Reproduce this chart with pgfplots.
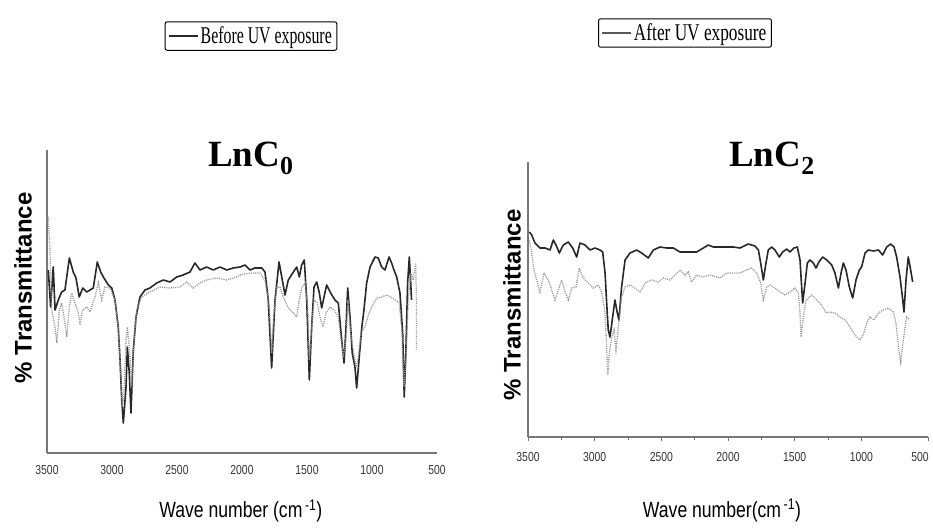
\documentclass[border=0pt]{standalone}
\usepackage{fontspec}
\setmainfont{Liberation Serif}
\newfontfamily\ticksf[FakeStretch=0.8]{Liberation Sans}
\newfontfamily\labsf[FakeStretch=0.8]{Liberation Sans}
\newfontfamily\ylabsf{Liberation Sans}
\newfontfamily\legL[FakeStretch=0.66]{Liberation Serif}
\newfontfamily\legR[FakeStretch=0.72]{Liberation Serif}
\usepackage{pgfplots}
\pgfplotsset{compat=1.18}

\definecolor{axgray}{RGB}{120,120,120}
\definecolor{beforec}{RGB}{40,40,40}
\definecolor{afterc}{RGB}{150,150,150}

\pgfplotsset{ftir/.style={
  scale only axis, anchor=south west,
  axis lines*=left, axis line style={axgray,line width=1.5pt,-},
  x dir=reverse, xmin=500, xmax=3500, ymin=0,
  xtick={500,1000,...,3500}, ytick=\empty,
  tick style={axgray,line width=1pt},
  /pgf/number format/assume math mode=true,
  /pgf/number format/1000 sep={},
  xticklabel style={font=\ticksf\fontsize{13}{14}\selectfont, text=black!80},
  xlabel style={font=\labsf\fontsize{22}{24}\selectfont, anchor=base},
  ylabel style={font=\ylabsf\bfseries\fontsize{24}{26}\selectfont, rotate=0, anchor=center},
  title style={font=\bfseries\fontsize{37}{40}\selectfont, anchor=base},
  legend image code/.code={\draw[#1] (0pt,0pt) -- (29pt,0pt);},
  legend style={draw=black, line width=1pt, rounded corners=2pt, anchor=center,
    inner xsep=3pt, inner ysep=3pt, cells={anchor=west}},
}}
\tikzset{before/.style={beforec, line width=1.6pt, line join=round},
  after/.style={afterc, line width=1.3pt, dash pattern=on 1.1pt off 1.1pt}}

\begin{document}
\begin{tikzpicture}
\useasboundingbox (0,0) rectangle (933pt,527pt);

% LnC0
\begin{axis}[ftir, at={(47pt,74pt)}, width=390pt, height=303pt, ymax=303,
  major tick length=0pt,
  xticklabel style={yshift=-9pt},
  xlabel={Wave number (cm\textsuperscript{\,-1})},
  xlabel style={at={(axis description cs:0.497,-0.2145)}},
  ylabel={\% Transmittance},
  ylabel style={at={(axis description cs:-0.0615,0.545)}},
  title={LnC\textsubscript{0}},
  title style={at={(axis description cs:0.523,0.927)}},
  legend style={at={(axis description cs:0.523,1.376)}, font=\legL\fontsize{24}{26}\selectfont}]
\addplot[before] coordinates {
(3490,183) (3472,146) (3452,186) (3438,143) (3413,153) (3387,161) (3362,163)
(3328,195) (3298,181) (3277,175) (3252,156) (3225,165) (3195,161) (3169,163)
(3144,165) (3113,191) (3087,181) (3062,175) (3028,168) (3002,165) (2977,153)
(2952,126) (2938,93) (2925,53) (2913,30) (2892,66) (2882,106) (2867,80)
(2854,40) (2836,103) (2815,136) (2785,156) (2746,163) (2708,165) (2656,170)
(2605,173) (2554,171) (2502,176) (2452,178) (2400,181) (2362,190) (2323,183)
(2272,186) (2221,183) (2169,186) (2118,183) (2067,185) (2015,186) (1977,188)
(1938,183) (1900,185) (1848,185) (1823,181) (1798,153) (1772,85) (1746,153)
(1715,191) (1690,173) (1669,158) (1644,173) (1605,181) (1579,186) (1559,176)
(1541,188) (1521,193) (1502,153) (1482,73) (1464,126) (1446,166) (1425,171)
(1405,160) (1387,145) (1369,156) (1349,168) (1318,160) (1285,153) (1259,150)
(1233,113) (1215,90) (1200,126) (1187,165) (1169,136) (1152,100) (1131,86)
(1118,65) (1100,93) (1079,125) (1062,143) (1041,170) (1015,186) (977,196)
(952,195) (926,186) (900,183) (869,196) (849,190) (831,183) (810,176)
(785,160) (764,120) (752,56) (739,103) (726,170) (713,196) (702,170) (696,153)
};
\addlegendentry{Before UV exposure}
\addplot[after, forget plot] coordinates {
(3490,236) (3477,203) (3464,143) (3438,126) (3425,110) (3405,143) (3387,150)
(3369,136) (3348,116) (3328,146) (3310,160) (3285,150) (3259,140) (3246,128)
(3225,143) (3195,146) (3169,141) (3148,150) (3131,156) (3105,170) (3079,153)
(3054,166) (3015,165) (2977,153) (2952,126) (2933,80) (2921,46) (2908,60)
(2892,113) (2882,126) (2867,106) (2848,66) (2831,113) (2810,143) (2772,156)
(2708,161) (2631,166) (2554,165) (2477,166) (2425,171) (2375,165) (2323,170)
(2272,173) (2195,175) (2118,173) (2041,176) (2015,178) (1938,180) (1862,180)
(1823,173) (1790,146) (1772,100) (1754,140) (1733,166) (1708,166) (1682,156)
(1644,145) (1605,140) (1579,136) (1559,153) (1541,165) (1515,170) (1495,146)
(1482,93) (1464,126) (1446,153) (1421,150) (1395,133) (1375,126) (1354,140)
(1323,146) (1290,143) (1259,136) (1238,113) (1221,96) (1200,113) (1185,153)
(1164,120) (1144,103) (1123,86) (1105,96) (1085,120) (1054,126) (1028,138)
(1002,146) (964,155) (926,156) (887,158) (856,156) (823,153) (790,150)
(769,120) (754,66) (739,93) (721,153) (702,180) (682,173) (664,190)
(658,153) (658,103)
};
\end{axis}

% LnC2
\begin{axis}[ftir, at={(528pt,90pt)}, width=400pt, height=275pt, ymax=275,
  xtick={1000,1500,...,3500},
  extra x ticks={500},
  extra x tick style={xticklabel style={xshift=-8pt}},
  tick align=outside, major tick length=4pt, minor tick length=3pt,
  minor x tick num=1,
  xticklabel style={yshift=-8pt},
  xlabel={Wave number(cm\textsuperscript{\,-1})},
  xlabel style={at={(axis description cs:0.485,-0.291)}},
  ylabel={\% Transmittance},
  ylabel style={at={(axis description cs:-0.04,0.48)}},
  title={LnC\textsubscript{2}},
  title style={at={(axis description cs:0.61,0.9636)}},
  legend style={at={(axis description cs:0.3925,1.469)}, font=\legR\fontsize{24}{26}\selectfont}]
\addlegendimage{gray!70!black, line width=1.4pt}
\addlegendentry{After UV exposure}
\addplot[before, forget plot] coordinates {
(3490,205) (3472,202) (3448,194) (3410,189) (3372,189) (3335,187) (3310,197)
(3290,192) (3265,184) (3235,192) (3198,195) (3165,189) (3135,180) (3110,194)
(3072,192) (3035,187) (2998,189) (2960,187) (2940,185) (2922,164) (2910,134)
(2898,107) (2885,100) (2865,120) (2848,137) (2830,124) (2818,117) (2798,150)
(2772,177) (2735,184) (2685,187) (2648,184) (2598,179) (2560,187) (2510,190)
(2460,189) (2410,189) (2360,185) (2310,185) (2235,185) (2185,189) (2148,192)
(2110,190) (2060,190) (2010,190) (1960,190) (1910,189) (1848,193) (1798,191)
(1772,187) (1755,174) (1735,157) (1715,174) (1698,187) (1672,190) (1648,187)
(1615,180) (1590,185) (1560,188) (1535,185) (1505,189) (1480,190) (1460,177)
(1440,134) (1422,154) (1405,174) (1385,177) (1360,174) (1340,169) (1318,175)
(1290,180) (1260,177) (1222,172) (1198,164) (1172,149) (1152,164) (1135,174)
(1115,167) (1090,150) (1065,139) (1040,157) (1015,167) (998,170) (972,184)
(948,187) (910,186) (872,187) (840,182) (810,190) (780,193) (755,190)
(735,180) (710,160) (692,140) (680,125) (665,157) (648,180) (630,167) (615,155)
};
\addplot[after, forget plot] coordinates {
(3490,197) (3472,184) (3455,167) (3435,157) (3410,145) (3380,164) (3348,157)
(3322,147) (3298,137) (3272,147) (3248,157) (3222,145) (3198,137) (3172,149)
(3140,150) (3115,169) (3085,159) (3048,154) (3010,149) (2972,152) (2948,145)
(2922,124) (2910,90) (2902,62) (2890,84) (2872,100) (2855,107) (2840,87)
(2822,110) (2798,140) (2772,150) (2735,152) (2698,149) (2660,145) (2622,154)
(2572,157) (2522,155) (2485,159) (2435,157) (2398,162) (2360,167) (2322,162)
(2298,165) (2272,155) (2235,162) (2185,160) (2135,162) (2060,159) (2010,164)
(1960,164) (1910,164) (1860,167) (1822,169) (1785,164) (1755,154) (1735,137)
(1710,150) (1685,152) (1648,149) (1610,145) (1572,142) (1535,145) (1498,149)
(1472,144) (1460,124) (1452,100) (1435,120) (1415,137) (1372,142) (1335,137)
(1298,132) (1265,124) (1235,125) (1198,124) (1160,120) (1122,117) (1085,110)
(1048,102) (1010,97) (985,102) (960,114) (935,120) (905,117) (872,124)
(835,127) (798,129) (760,125) (740,114) (722,90) (705,75) (685,97)
(660,120) (635,117)
};
\end{axis}
\end{tikzpicture}
\end{document}
